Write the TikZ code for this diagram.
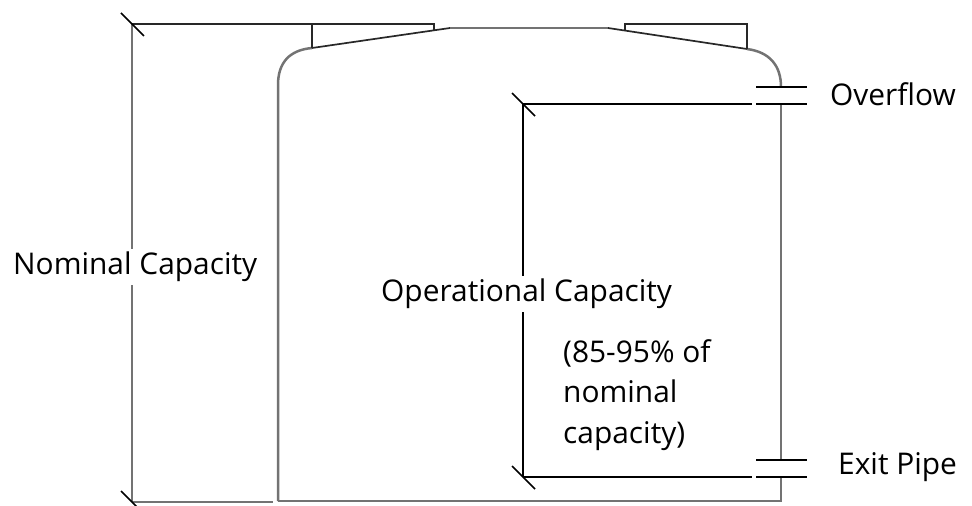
\documentclass[tikz,border=0pt]{standalone}
\usepackage{fontspec}
\setmainfont{Open Sans}
\usetikzlibrary{calc}
\definecolor{tankgray}{RGB}{115,115,115}
\definecolor{dimgray}{RGB}{40,40,40}
\tikzset{
 tank/.style={draw=tankgray, line width=2.5bp},
 lid/.style={draw=dimgray, line width=1.7bp},
 dim/.style={draw=black, line width=1.6bp},
 nomdim/.style={draw=tankgray, line width=2.5bp},
 tick/.style={draw=black, line width=1.7bp},
 lbl/.style={font=\fontsize{30}{38}\selectfont, inner sep=0, anchor=base west},
 cover/.style={fill=white, inner sep=3bp}
}
\begin{document}
\begin{tikzpicture}[x=1bp, y=-1bp]
\useasboundingbox (0,0) rectangle (972,506);
% tank body
\draw[tank] (278,501) -- (278,85) .. controls (278,62) and (290,50) .. (312,48);
\draw[lid] (312,48) -- (450,28);
\draw[tank] (450,28) -- (608,28);
\draw[lid] (608,28) -- (747,49);
\draw[tank] (747,49) .. controls (770,52) and (781,66) .. (781,87);
\draw[tank] (781,104) -- (781,460);
\draw[tank] (781,477) -- (781,501) -- (278,501);
% lids
\draw[lid] (312,48) -- (312,24) -- (434,24) -- (434,30);
\draw[lid] (625,30) -- (625,24) -- (747,24) -- (747,49);
% pipes
\foreach \y in {87,104,460,477}
 \draw[dim] (756,\y) -- (807,\y);
% dimension points
\coordinate (nt) at (132,24);
\coordinate (nb) at (132,502);
\coordinate (ot) at (523,104);
\coordinate (ob) at (523,477);
\coordinate (ntr) at (312,24);
\coordinate (nbr) at (273,502);
\coordinate (otr) at (752,104);
\coordinate (obr) at (752,477);
\draw[lid] (nt) -- (ntr);
\draw[nomdim] (nb) -- (nbr);
\draw[nomdim] (nt) -- (nb);
\draw[dim] (ot) -- (otr);
\draw[dim] (ob) -- (obr);
\draw[dim] (ot) -- (ob);
\foreach \c in {nt,nb,ot,ob}
 \draw[tick] ($(\c)+(-11,-11)$) -- ($(\c)+(12,12)$);
% labels
\node[lbl, cover] (nominal) at (10,275) {Nominal Capacity};
\node[lbl, cover] (operational) at (378,302) {Operational Capacity};
\node[lbl, align=left] (percent) at (563,443) {(85-95\% of\\[2.5bp]nominal\\[2.5bp]capacity)};
\node[lbl] (overflow) at (830,106) {Overflow};
\node[lbl] (exit) at (838,474) {Exit Pipe};
\end{tikzpicture}
\end{document}
